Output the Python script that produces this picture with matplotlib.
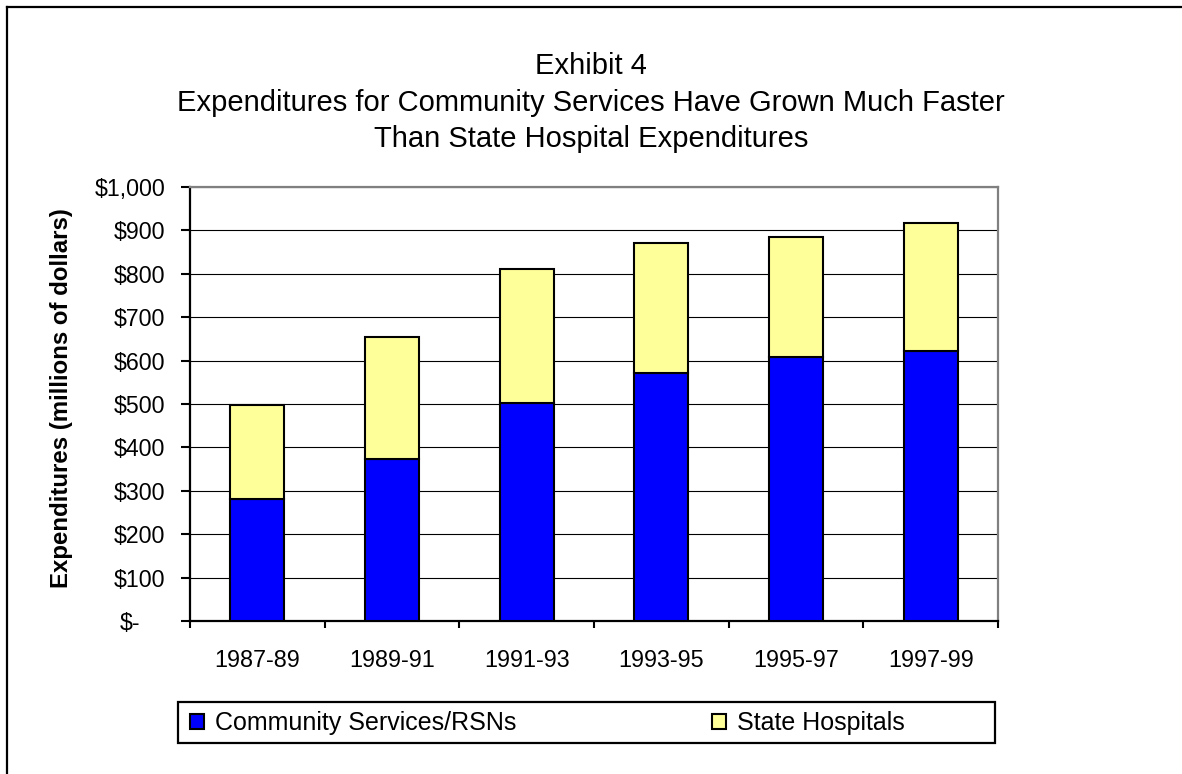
import numpy as np
import matplotlib
matplotlib.use("Agg")
import matplotlib.pyplot as plt
from matplotlib.patches import Patch, Rectangle
from matplotlib.lines import Line2D
from matplotlib.transforms import ScaledTranslation

plt.rcParams['font.family'] = ['Liberation Sans', 'DejaVu Sans']

# Biennial expenditures, millions of dollars
periods = ["1987-89", "1989-91", "1991-93", "1993-95", "1995-97", "1997-99"]
community_services = [280, 373, 503, 572, 608, 622]
state_hospitals = [217, 282, 308, 300, 277, 296]
y_ticks = [0, 100, 200, 300, 400, 500, 600, 700, 800, 900, 1000]
y_tick_labels = ["$-", "$100", "$200", "$300", "$400", "$500",
                 "$600", "$700", "$800", "$900", "$1,000"]

W, H = 1182, 774
fig = plt.figure(figsize=(W / 100, H / 100), dpi=100)
fig.patch.set_facecolor("white")

# plot area in pixel coordinates
px_l, px_r, px_t, px_b = 190, 998, 187, 621
ax = fig.add_axes([px_l / W, 1 - px_b / H, (px_r - px_l) / W, (px_b - px_t) / H])

x = np.arange(len(periods))
ax.bar(x, community_services, width=0.40, color="#0000FF",
       edgecolor="black", linewidth=1.5, zorder=3, label="Community Services/RSNs")
ax.bar(x, state_hospitals, width=0.40, bottom=community_services, color="#FFFF99",
       edgecolor="black", linewidth=1.5, zorder=3, label="State Hospitals")

ax.set_xlim(-0.5, len(periods) - 0.5)
ax.set_ylim(0, 1000)

# horizontal gridlines
ax.set_yticks(y_ticks)
ax.set_yticklabels(y_tick_labels)
ax.yaxis.grid(True, color="black", linewidth=0.8, zorder=0)
ax.set_axisbelow(True)

# category boundaries carry the ticks, centres carry the labels
ax.set_xticks(np.arange(-0.5, len(periods), 1.0))
ax.set_xticklabels([])
ax.set_xticks(x, minor=True)
ax.set_xticklabels(periods, minor=True)
ax.tick_params(axis="x", which="major", direction="out", length=5, width=1.5, color="black")
ax.tick_params(axis="x", which="minor", length=0, pad=20, labelsize=16.8)
ax.tick_params(axis="y", which="major", direction="out", length=6.5, width=1.5,
               color="black", pad=11.5, labelsize=16.7)

# the "$-" label sits further left, as in accounting format
zero_lbl = ax.get_yticklabels()[0]
zero_lbl.set_transform(zero_lbl.get_transform() +
                       ScaledTranslation(-18 / 72, 0, fig.dpi_scale_trans))

for side in ("left", "bottom"):
    ax.spines[side].set_color("black")
    ax.spines[side].set_linewidth(1.6)
for side in ("top", "right"):
    ax.spines[side].set_color("#808080")
    ax.spines[side].set_linewidth(1.6)

ax.set_ylabel("Expenditures (millions of dollars)", fontsize=17.3,
              fontweight="bold", labelpad=0)
ax.yaxis.set_label_coords((73 - px_l) / (px_r - px_l), 1 - (398 - px_t) / (px_b - px_t))

# title lines
title_lines = ["Exhibit 4",
               "Expenditures for Community Services Have Grown Much Faster",
               "Than State Hospital Expenditures"]
baselines = [74, 110.7, 147]
for line, yb in zip(title_lines, baselines):
    fig.text(591 / W, 1 - yb / H, line, ha="center", va="baseline", fontsize=21)

# legend frame
leg_l, leg_r, leg_t, leg_b = 178, 995, 702, 743
fig.patches.append(Rectangle((leg_l / W, 1 - leg_b / H), (leg_r - leg_l) / W,
                             (leg_b - leg_t) / H, transform=fig.transFigure,
                             facecolor="white", edgecolor="black", linewidth=1.6))

handles = [Patch(facecolor="#0000FF", edgecolor="black", linewidth=1.5),
           Patch(facecolor="#FFFF99", edgecolor="black", linewidth=1.5)]
fig.legend(handles, ["Community Services/RSNs", "State Hospitals"],
           loc="center left", bbox_to_anchor=(190 / W, 1 - 723 / H),
           ncol=2, frameon=False, fontsize=18, borderpad=0, borderaxespad=0,
           handlelength=0.56, handleheight=0.56, handletextpad=0.45,
           columnspacing=7.8)

# outer border (top and left edges)
fig.add_artist(Line2D([7 / W, 1], [1 - 7 / H, 1 - 7 / H], color="black", linewidth=1.6,
                      transform=fig.transFigure))
fig.add_artist(Line2D([7 / W, 7 / W], [0, 1 - 7 / H], color="black", linewidth=1.6,
                      transform=fig.transFigure))

fig.savefig("out.png", dpi=100)
